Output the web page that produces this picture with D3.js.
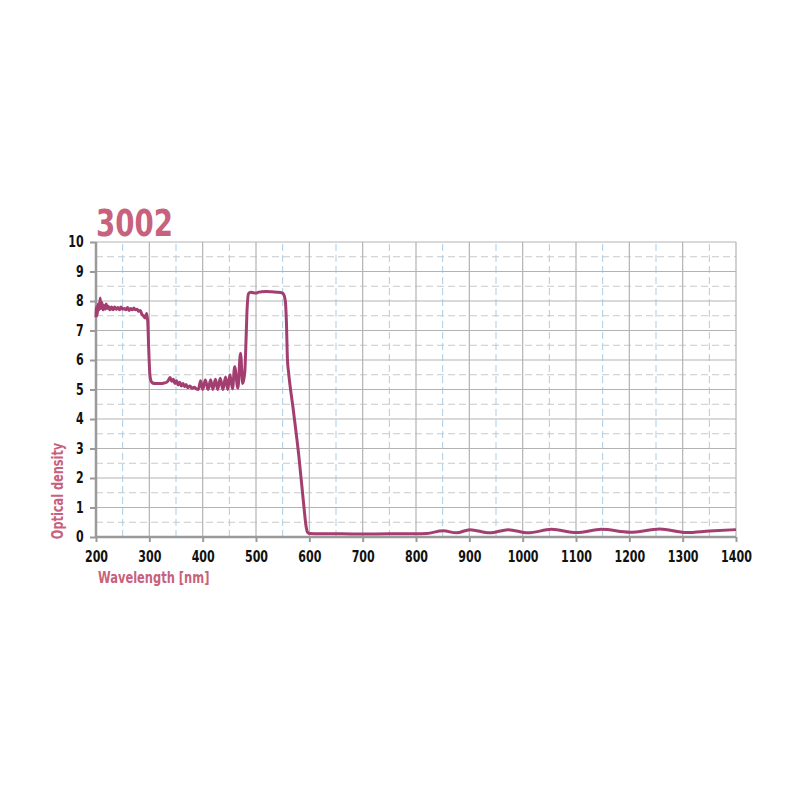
<!DOCTYPE html>
<html><head><meta charset="utf-8">
<script src="https://cdn.jsdelivr.net/npm/d3@7"></script>
<style>body{margin:0;background:#fff}svg{display:block}text{font-stretch:condensed}</style>
</head><body>
<script>
const title = "3002";
const xLabel = "Wavelength [nm]";
const yLabel = "Optical density";
const xTicks = [200,300,400,500,600,700,800,900,1000,1100,1200,1300,1400];
const yTicks = [0,1,2,3,4,5,6,7,8,9,10];
const wavelength = [200,201,202,204,206,208,209,211,213,215,217,219,221,223,226,229,232,235,238,241,244,247,250,253,256,259,262,265,268,271,274,277,280,283,286,289,292,295,297,299,301,303,306,312,320,328,333,336,339,342,345,348,351,354,357,360,363,366,369,372,376,380,384,388,392,396,400,405,410,415,419,424,428,433,438,443,447,451,456,460,466,471,475,479,481,483,486,490,495,500,505,510,520,530,540,548,552,555,557,559,561,570,580,590,594,597,600,620,660,700,750,800,820,851,876,901,938,973,1010,1054,1101,1148,1201,1257,1307,1350,1400];
const density = [7.45,7.8,7.5,7.9,7.7,8.1,7.75,7.95,7.7,7.85,7.72,7.9,7.75,7.82,7.7,7.8,7.7,7.8,7.72,7.78,7.7,7.8,7.72,7.75,7.7,7.78,7.68,7.75,7.7,7.76,7.7,7.72,7.65,7.68,7.55,7.5,7.42,7.58,7.3,6.3,5.5,5.3,5.22,5.2,5.2,5.22,5.25,5.32,5.41,5.28,5.35,5.2,5.3,5.15,5.25,5.12,5.2,5.1,5.17,5.06,5.12,5.04,5.08,5.02,5.0,5.3,5.0,5.32,5.0,5.33,5.0,5.35,5.0,5.38,5.0,5.42,5.0,5.5,5.02,5.77,5.05,6.23,5.2,5.6,6.5,7.6,8.25,8.3,8.28,8.27,8.3,8.31,8.32,8.31,8.3,8.28,8.22,8.0,7.3,6.0,5.6,4.3,2.8,1.0,0.35,0.15,0.12,0.11,0.11,0.1,0.11,0.11,0.12,0.21,0.14,0.25,0.14,0.25,0.14,0.26,0.15,0.26,0.16,0.27,0.15,0.2,0.25];

const W = 800, H = 800;
const m = {left: 96, right: 64, top: 242, bottom: 263};
const svg = d3.select("body").append("svg").attr("width", W).attr("height", H);
const x = d3.scaleLinear().domain([200,1400]).range([m.left, W - m.right]);
const y = d3.scaleLinear().domain([0,10]).range([H - m.bottom, m.top]);
const font = "'DejaVu Sans Condensed','Liberation Sans Narrow','DejaVu Sans',sans-serif";
const pink = "#c8617d";

const g = svg.append("g");
g.selectAll(".hm").data(d3.range(0.5,10,1)).join("line")
  .attr("x1", x(200)).attr("x2", x(1400)).attr("y1", d=>y(d)).attr("y2", d=>y(d))
  .attr("stroke","#c9c9c9").attr("stroke-width",1).attr("stroke-dasharray","7,4");
g.selectAll(".vm").data(d3.range(250,1400,100)).join("line")
  .attr("x1", d=>x(d)).attr("x2", d=>x(d)).attr("y1", y(0)).attr("y2", y(10))
  .attr("stroke","#a9cde2").attr("stroke-width",1).attr("stroke-dasharray","7,4");
g.selectAll(".hM").data(yTicks.slice(1)).join("line")
  .attr("x1", x(200)).attr("x2", x(1400)).attr("y1", d=>y(d)).attr("y2", d=>y(d))
  .attr("stroke","#b3b3b3").attr("stroke-width",1.2);
g.selectAll(".vM").data(xTicks.slice(1)).join("line")
  .attr("x1", d=>x(d)).attr("x2", d=>x(d)).attr("y1", y(0)).attr("y2", y(10))
  .attr("stroke","#b3b3b3").attr("stroke-width",1.2);

const xAxis = d3.axisBottom(x).tickValues(xTicks).tickSize(5).tickPadding(9).tickFormat(d3.format("d"));
const yAxis = d3.axisLeft(y).tickValues(yTicks).tickSize(6).tickPadding(6);
const gx = svg.append("g").attr("transform",`translate(0,${y(0)})`).call(xAxis);
const gy = svg.append("g").attr("transform",`translate(${x(200)},0)`).call(yAxis);
[gx,gy].forEach(a=>{
  a.select(".domain").attr("stroke","#9a9a9a").attr("stroke-width",2.5);
  a.selectAll(".tick line").attr("stroke","#9a9a9a").attr("stroke-width",2);
  a.selectAll("text").attr("fill","#111").attr("font-family",font).attr("font-weight","bold").attr("font-size",15)
    .attr("transform","scale(0.82,1)");
});
gy.selectAll(".tick text").attr("x",-15);
gx.select(".domain").attr("d", `M${x(200)},0H${x(1400)}`);
gy.select(".domain").attr("d", `M0,${y(0)}V${y(10)}`);

const pts = wavelength.map((w,i)=>[w,density[i]]);
svg.append("path").datum(pts)
  .attr("d", d3.line().x(d=>x(d[0])).y(d=>y(d[1])).curve(d3.curveMonotoneX))
  .attr("fill","none").attr("stroke","#a23e70").attr("stroke-width",3).attr("stroke-linejoin","round");

svg.append("text").attr("transform","translate(96,236) scale(0.83,1)").text(title)
  .attr("fill",pink).attr("font-family",font).attr("font-weight","bold").attr("font-size",37);
svg.append("text").attr("transform","translate(98,583) scale(0.85,1)").text(xLabel)
  .attr("fill",pink).attr("font-family",font).attr("font-weight","bold").attr("font-size",15);
svg.append("text").attr("transform","translate(63,491) rotate(-90) scale(0.84,1)").attr("text-anchor","middle").text(yLabel)
  .attr("fill",pink).attr("font-family",font).attr("font-weight","bold").attr("font-size",15);
</script>
</body></html>
